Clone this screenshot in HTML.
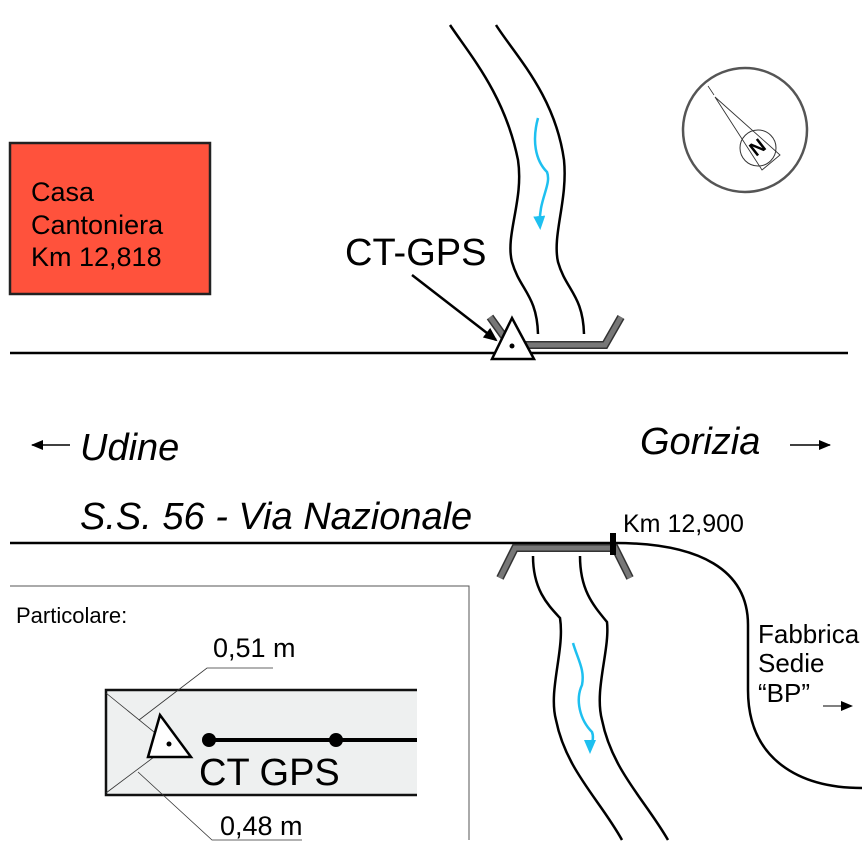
<!DOCTYPE html>
<html><head><meta charset="utf-8"><style>
html,body{margin:0;padding:0;background:#fff;}
svg{display:block;font-family:"Liberation Sans",sans-serif;}
</style></head><body>
<svg width="866" height="866" viewBox="0 0 866 866" xmlns="http://www.w3.org/2000/svg">
<defs>
<marker id="ah" markerWidth="12" markerHeight="10" refX="11" refY="5" orient="auto" markerUnits="userSpaceOnUse"><path d="M0,0 L12,5 L0,10z" fill="#000"/></marker>
<marker id="ab" markerWidth="14" markerHeight="12" refX="12" refY="6" orient="auto" markerUnits="userSpaceOnUse"><path d="M0,0 L14,6 L0,12z" fill="#000"/></marker>
<marker id="bl" markerWidth="14" markerHeight="12" refX="10" refY="6" orient="auto" markerUnits="userSpaceOnUse"><path d="M0,0 L14,6 L0,12z" fill="#1ec0f0"/></marker>
</defs>
<rect x="10" y="143" width="200" height="151" fill="#ff523c" stroke="#222" stroke-width="2.5"/>
<text x="31" y="201" font-size="27">Casa</text>
<text x="31" y="234" font-size="27">Cantoniera</text>
<text x="31" y="266" font-size="27">Km 12,818</text>
<circle cx="745" cy="130" r="62" fill="none" stroke="#555" stroke-width="2.5"/>
<line x1="708" y1="86" x2="714" y2="95" stroke="#333" stroke-width="0.8"/>
<path d="M715,97 L780,155 L762,170 Z" fill="none" stroke="#333" stroke-width="0.9"/>
<circle cx="758" cy="148" r="18" fill="none" stroke="#333" stroke-width="1"/>
<text x="758" y="148" font-size="20" font-weight="bold" text-anchor="middle" dominant-baseline="central" transform="rotate(-38 758 148)">N</text>
<path d="M450,25 C470,55 505,95 518,160 C524,200 505,235 512,262 C520,290 537,295 538,334" fill="none" stroke="#000" stroke-width="2.5"/>
<path d="M496,25 C515,55 555,95 564,160 C568,200 552,235 558,262 C566,290 583,295 584,334" fill="none" stroke="#000" stroke-width="2.5"/>
<path d="M538,118 C532,140 535,160 547,172 C552,185 538,200 540,226" fill="none" stroke="#1ec0f0" stroke-width="2.5" marker-end="url(#bl)"/>
<path d="M490,317 L510,345 L605,345 L621,317" fill="none" stroke="#333" stroke-width="8"/>
<path d="M490,317 L510,345 L605,345 L621,317" fill="none" stroke="#777" stroke-width="5"/>
<line x1="10" y1="353" x2="848" y2="353" stroke="#000" stroke-width="2.5"/>
<text x="345" y="265" font-size="38">CT-GPS</text>
<line x1="412" y1="275" x2="496" y2="340" stroke="#000" stroke-width="2.5" marker-end="url(#ab)"/>
<path d="M512,318 L492,359 L534,359 Z" fill="#fff" stroke="#000" stroke-width="2.5"/>
<circle cx="512" cy="346" r="2.5" fill="#000"/>
<line x1="70" y1="445" x2="32" y2="445" stroke="#000" stroke-width="1.5" marker-end="url(#ah)"/>
<text x="80" y="460" font-size="38" font-style="italic">Udine</text>
<text x="640" y="454" font-size="38" font-style="italic">Gorizia</text>
<line x1="790" y1="445" x2="830" y2="445" stroke="#000" stroke-width="1.5" marker-end="url(#ah)"/>
<text x="80" y="529" font-size="38" font-style="italic">S.S. 56 - Via Nazionale</text>
<text x="623" y="532" font-size="25">Km 12,900</text>
<line x1="10" y1="543" x2="615" y2="543" stroke="#000" stroke-width="2.5"/>
<path d="M615,543 C700,543 748,570 748,625 L748,690 C748,760 800,788 862,788" fill="none" stroke="#000" stroke-width="2.5"/>
<path d="M533,556 C533,590 548,605 560,618 C565,650 548,690 556,720 C566,770 600,800 622,840" fill="none" stroke="#000" stroke-width="2.5"/>
<path d="M580,556 C580,590 593,605 607,622 C610,650 594,690 602,720 C612,770 645,800 668,840" fill="none" stroke="#000" stroke-width="2.5"/>
<path d="M573,643 C578,660 585,670 582,685 C575,700 580,720 592,732 C595,740 590,745 590,750" fill="none" stroke="#1ec0f0" stroke-width="2.5" marker-end="url(#bl)"/>
<path d="M500,578 L515,548 L615,548 L630,578" fill="none" stroke="#333" stroke-width="8"/>
<path d="M500,578 L515,548 L615,548 L630,578" fill="none" stroke="#777" stroke-width="5"/>
<rect x="610" y="533" width="6" height="22" fill="#000"/>
<text x="758" y="643" font-size="26">Fabbrica</text>
<text x="758" y="672" font-size="26">Sedie</text>
<text x="758" y="702" font-size="26">“BP”</text>
<line x1="823" y1="706" x2="852" y2="706" stroke="#000" stroke-width="1" marker-end="url(#ah)"/>
<polyline points="10,586 469,586 469,840" fill="none" stroke="#555" stroke-width="1"/>
<text x="16" y="623" font-size="22">Particolare:</text>
<path d="M417,690 L106,690 L106,795 L417,795" fill="#eef0f0" stroke="#111" stroke-width="2.5"/>
<line x1="106" y1="693" x2="170" y2="745" stroke="#333" stroke-width="0.8"/>
<line x1="106" y1="793" x2="170" y2="745" stroke="#333" stroke-width="0.8"/>
<polyline points="139,720 207,668 273,668" fill="none" stroke="#333" stroke-width="0.8"/>
<polyline points="138,772 212,840 302,840" fill="none" stroke="#333" stroke-width="0.8"/>
<text x="213" y="657" font-size="27">0,51 m</text>
<text x="220" y="835" font-size="27">0,48 m</text>
<path d="M160,715 L148,757 L191,757 Z" fill="#fff" stroke="#000" stroke-width="2.5"/>
<circle cx="169" cy="744" r="2.5" fill="#000"/>
<line x1="209" y1="740" x2="417" y2="740" stroke="#000" stroke-width="4"/>
<circle cx="209" cy="740" r="7" fill="#000"/>
<circle cx="336" cy="740" r="7" fill="#000"/>
<text x="199" y="785" font-size="38">CT GPS</text>
</svg>
</body></html>
